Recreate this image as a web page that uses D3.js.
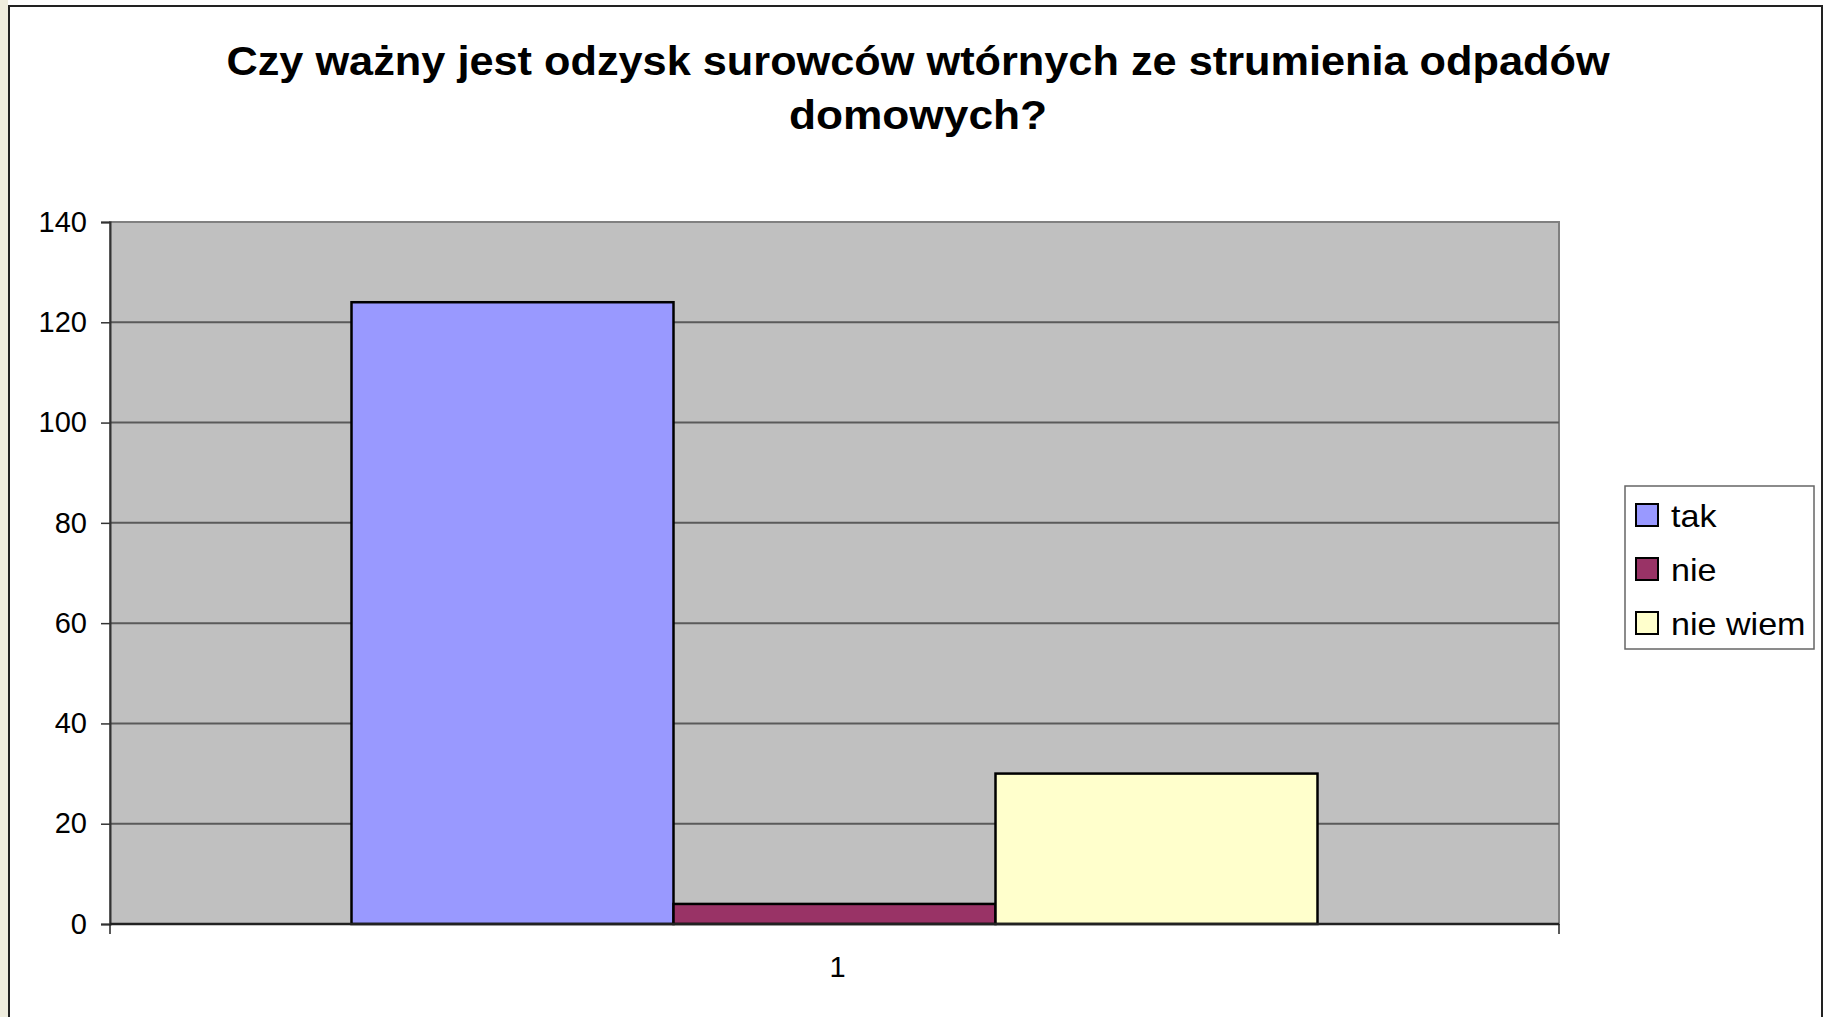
<!DOCTYPE html>
<html lang="pl">
<head>
    <meta charset="utf-8">
    <title>Odzysk surowców wtórnych</title>
    <script src="https://d3js.org/d3.v7.min.js" charset="utf-8"></script>
    <style type="text/css">
        body { margin: 0; background: white; }
        text { font-family: "Liberation Sans", Arial, sans-serif; fill: black; }
    </style>
</head>
<body>
    <div id="main"></div>
    <script type="text/javascript">
        var categories = ["1"];
        var series = ["tak", "nie", "nie wiem"];
        var values = [124, 4, 30];
        var colors = ["#9999FF", "#993366", "#FFFFCC"];
        var yTicks = [0, 20, 40, 60, 80, 100, 120, 140];
        var titleLines = ["Czy ważny jest odzysk surowców wtórnych ze strumienia odpadów", "domowych?"];

        var width = 1827, height = 1017;
        var plot = {left: 110, top: 222, right: 1559, bottom: 924};

        var svg = d3.select("div#main").append("svg")
            .attr("width", width)
            .attr("height", height);

        // strip of slide background on the far left
        svg.append("rect").attr("x", 0).attr("y", 0).attr("width", 8).attr("height", height).attr("fill", "#efedde");
        // chart frame (bottom edge is cut off)
        svg.append("path")
            .attr("d", "M9," + height + "V6H1822V" + height)
            .attr("fill", "white").attr("stroke", "#222").attr("stroke-width", 2);

        // slide text is a little stretched sideways
        svg.append("g").selectAll("text")
            .data(titleLines)
            .enter().append("text")
            .attr("transform", function(d, i) { return "translate(918," + (75 + i * 54) + ") scale(" + (i == 0 ? 1.056 : 1.08) + ",1)"; })
            .attr("text-anchor", "middle")
            .style("font-size", "41px")
            .style("font-weight", "bold")
            .text(function(d) { return d; });

        var y = d3.scaleLinear().domain([0, 140]).range([plot.bottom, plot.top]);
        var x0 = d3.scaleBand().domain(categories).range([plot.left, plot.right]);
        // gap width 150% -> bars take 3/(3+1.5) of band
        var x1 = d3.scaleBand().domain(series)
            .range([0, x0.bandwidth()])
            .paddingOuter(0.75).paddingInner(0);

        svg.append("rect")
            .attr("x", plot.left).attr("y", plot.top)
            .attr("width", plot.right - plot.left).attr("height", plot.bottom - plot.top)
            .attr("fill", "#C0C0C0").attr("stroke", "#808080").attr("stroke-width", 2);

        svg.append("g").selectAll("line")
            .data(yTicks.slice(1, -1))
            .enter().append("line")
            .attr("x1", plot.left).attr("x2", plot.right)
            .attr("y1", function(d) { return y(d); }).attr("y2", function(d) { return y(d); })
            .attr("stroke", "#5a5a5a").attr("stroke-width", 2);

        var yAxis = svg.append("g")
            .attr("transform", "translate(" + plot.left + ",0)")
            .call(d3.axisLeft(y).tickValues(yTicks).tickSize(9).tickPadding(14));
        yAxis.select(".domain").attr("stroke", "#333").attr("stroke-width", 2);
        yAxis.selectAll(".tick line").attr("stroke", "#333").attr("stroke-width", 1.5);
        yAxis.selectAll("text").style("font-size", "29px").attr("font-family", null);

        svg.append("g").selectAll("rect")
            .data(values)
            .enter().append("rect")
            .attr("x", function(d, i) { return x0("1") + x1(series[i]); })
            .attr("y", function(d) { return y(d); })
            .attr("width", x1.bandwidth())
            .attr("height", function(d) { return plot.bottom - y(d); })
            .attr("fill", function(d, i) { return colors[i]; })
            .attr("stroke", "black").attr("stroke-width", 2.5);

        var xAxis = svg.append("g")
            .attr("transform", "translate(0," + plot.bottom + ")")
            .call(d3.axisBottom(x0).tickSize(0).tickPadding(32));
        xAxis.select(".domain").remove();
        xAxis.selectAll("text").style("font-size", "29px").attr("font-family", null)
            .attr("dx", 3);
        svg.append("g").selectAll("line")
            .data([plot.left, plot.right])
            .enter().append("line")
            .attr("x1", function(d) { return d; }).attr("x2", function(d) { return d; })
            .attr("y1", plot.bottom).attr("y2", plot.bottom + 10)
            .attr("stroke", "#222").attr("stroke-width", 1.5);
        svg.append("line")
            .attr("x1", plot.left).attr("x2", plot.right)
            .attr("y1", plot.bottom).attr("y2", plot.bottom)
            .attr("stroke", "#222").attr("stroke-width", 2.5);

        // legend
        var legend = svg.append("g").attr("transform", "translate(1625,486)");
        legend.append("rect")
            .attr("width", 189).attr("height", 163)
            .attr("fill", "white").attr("stroke", "#666").attr("stroke-width", 1.5);
        var item = legend.selectAll("g.item")
            .data(series)
            .enter().append("g")
            .attr("class", "item")
            .attr("transform", function(d, i) { return "translate(11," + (18 + i * 54) + ")"; });
        item.append("rect")
            .attr("width", 22).attr("height", 22)
            .attr("fill", function(d, i) { return colors[i]; })
            .attr("stroke", "black").attr("stroke-width", 2);
        item.append("text")
            .attr("transform", "translate(35,23) scale(1.1,1)")
            .style("font-size", "31px")
            .text(function(d) { return d; });
    </script>
</body>
</html>
